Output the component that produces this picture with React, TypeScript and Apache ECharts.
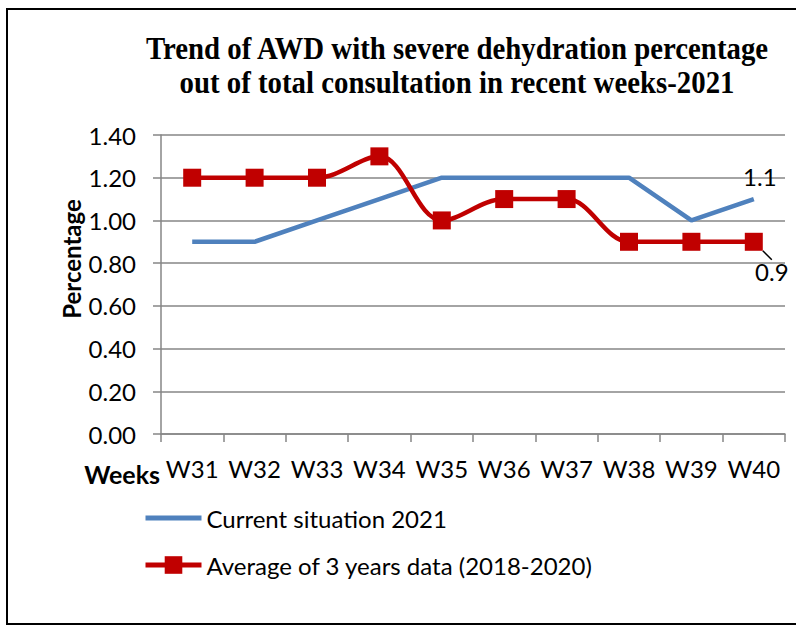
import React, { useEffect, useRef } from "react";
import * as echarts from "echarts";

const weeks = ["W31", "W32", "W33", "W34", "W35", "W36", "W37", "W38", "W39", "W40"];
const current2021 = [0.9, 0.9, 1.0, 1.1, 1.2, 1.2, 1.2, 1.2, 1.0, 1.1];
const avg3Years = [1.2, 1.2, 1.2, 1.3, 1.0, 1.1, 1.1, 0.9, 0.9, 0.9];
const yTicks = { min: 0, max: 1.4, interval: 0.2 };
const titleLines = [
  "Trend of AWD with severe dehydration percentage",
  "out of total consultation in recent weeks-2021",
];
const seriesNames = ["Current situation 2021", "Average of 3 years data (2018-2020)"];

export default function App() {
  const ref = useRef<HTMLDivElement>(null);
  useEffect(() => {
    if (!ref.current) return;
    const chart = echarts.init(ref.current, null, { renderer: "svg" });
    const last = weeks.length - 1;
    const fontLabel = { fontFamily: "Lato", fontSize: 24, color: "#000" };
    chart.setOption({
      animation: false,
      backgroundColor: "#ffffff",
      grid: { left: 161, right: 11, top: 135, bottom: 192, containLabel: false },
      legend: {
        orient: "vertical",
        left: 138,
        top: 500,
        itemWidth: 56,
        itemHeight: 22,
        itemGap: 21,
        data: [
          { name: seriesNames[0], itemStyle: { opacity: 0 }, lineStyle: { width: 5 } },
          { name: seriesNames[1], lineStyle: { width: 5 } },
        ],
        textStyle: { ...fontLabel, lineHeight: 26 },
      },
      xAxis: {
        type: "category",
        data: weeks,
        boundaryGap: true,
        axisLine: { lineStyle: { color: "#868686", width: 1.5 } },
        axisTick: { show: true, length: 8, alignWithLabel: false, interval: 0, lineStyle: { color: "#868686", width: 1.5 } },
        axisLabel: { ...fontLabel, margin: 22, interval: 0 },
        splitLine: { show: false },
      },
      yAxis: {
        type: "value",
        min: yTicks.min,
        max: yTicks.max,
        interval: yTicks.interval,
        axisLine: { show: true, lineStyle: { color: "#868686", width: 1.5 } },
        axisTick: { show: true, length: 8, lineStyle: { color: "#868686", width: 1.5 } },
        axisLabel: {
          ...fontLabel,
          margin: 25,
          formatter: (v: number) => v.toFixed(2),
        },
        splitLine: { show: true, lineStyle: { color: "#868686", width: 1.5 } },
      },
      series: [
        {
          name: seriesNames[0],
          type: "line",
          data: current2021,
          symbol: "none",
          lineStyle: { color: "#4F81BD", width: 4.5 },
          itemStyle: { color: "#4F81BD" },
          markPoint: {
            symbol: "circle",
            symbolSize: 0,
            data: [
              {
                coord: [last, current2021[last]],
                label: {
                  show: true,
                  position: "top",
                  distance: 5,
                  offset: [6, -6],
                  formatter: String(current2021[last]),
                  ...fontLabel,
                },
              },
            ],
          },
          z: 2,
        },
        {
          name: seriesNames[1],
          type: "line",
          smooth: 0.35,
          data: avg3Years.map((v, i) =>
            i === last
              ? {
                  value: v,
                  label: {
                    show: true,
                    position: "inside",
                    formatter: String(v),
                    ...fontLabel,
                  },
                }
              : v
          ),
          symbol: "rect",
          symbolSize: 18,
          lineStyle: { color: "#C00000", width: 4.5 },
          itemStyle: { color: "#C00000" },
          labelLayout: { dx: 18, dy: 30 },
          labelLine: { show: true, lineStyle: { color: "#000", width: 1.5 } },
          z: 3,
        },
      ],
      graphic: [
        {
          type: "rect",
          shape: { x: 7, y: 9, width: 800, height: 615 },
          style: { fill: "none", stroke: "#000", lineWidth: 2 },
          silent: true,
        },
        {
          type: "text",
          x: 457,
          y: 48,
          scaleX: 0.93,
          style: {
            text: titleLines[0],
            font: 'bold 31px "Liberation Serif"',
            fill: "#000",
            textAlign: "center",
            textVerticalAlign: "middle",
          },
        },
        {
          type: "text",
          x: 457,
          y: 82,
          scaleX: 0.93,
          style: {
            text: titleLines[1],
            font: 'bold 31px "Liberation Serif"',
            fill: "#000",
            textAlign: "center",
            textVerticalAlign: "middle",
          },
        },
        {
          type: "text",
          x: 71,
          y: 259,
          rotation: Math.PI / 2,
          style: {
            text: "Percentage",
            font: 'bold 24px "Lato"',
            fill: "#000",
            textAlign: "center",
            textVerticalAlign: "middle",
          },
        },
        {
          type: "text",
          x: 160,
          y: 474,
          style: {
            text: "Weeks",
            font: 'bold 25px "Lato"',
            fill: "#000",
            textAlign: "right",
            textVerticalAlign: "middle",
          },
        },
      ],
    });
    return () => chart.dispose();
  }, []);
  return (
    <div
      ref={ref}
      style={{ position: "fixed", left: 0, top: 0, width: 796, height: 626 }}
    />
  );
}
